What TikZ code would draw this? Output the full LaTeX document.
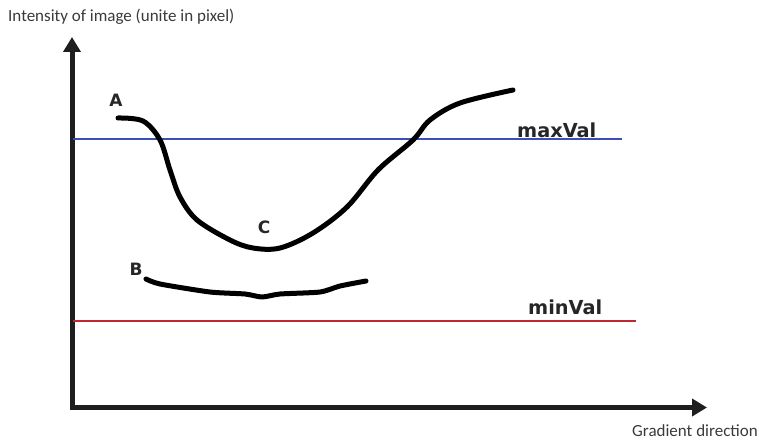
\documentclass[tikz,border=0pt]{standalone}
\usepackage{fontspec}
\setmainfont{Carlito}
\newfontfamily\lblfont{DejaVu Sans}
\usetikzlibrary{arrows.meta}
\definecolor{axisgray}{HTML}{1E1E1E}
\definecolor{txtgray}{HTML}{3A3A3A}
\definecolor{maxblue}{HTML}{3A4FB8}
\definecolor{minred}{HTML}{C0262E}
\tikzset{
  axisline/.style={line width=5pt, color=axisgray, line join=miter,
    arrows={Triangle[width=17pt,length=15pt]-Triangle[width=17pt,length=15pt]}},
  curveline/.style={line width=5pt, black, line cap=round, line join=round},
  levelline/.style={line width=1.6pt},
  axistext/.style={font=\fontsize{17}{19}\selectfont, text=txtgray, inner sep=0pt},
  lbltext/.style={font=\lblfont\bfseries\fontsize{17}{19}\selectfont, text=black!85, inner sep=0pt},
  thresh/.style={font=\lblfont\bfseries\fontsize{19.3}{21}\selectfont, text=black!85, inner sep=0pt}
}
\begin{document}
\begin{tikzpicture}[x=1pt,y=-1pt]
\useasboundingbox (0,0) rectangle (759,441);
% axes
\coordinate (ytip) at (72,37);
\coordinate (origin) at (72,407.5);
\coordinate (xtip) at (707,407.5);
\draw[axisline] (ytip) -- (origin) -- (xtip);
% threshold lines
\coordinate (maxL) at (73,139);
\coordinate (maxR) at (622,139);
\coordinate (minL) at (73,321);
\coordinate (minR) at (636,321);
\draw[levelline, maxblue] (maxL) -- (maxR);
\draw[levelline, minred] (minL) -- (minR);
% curve A
\draw[curveline] plot[smooth, tension=0.55] coordinates {
  (118,118) (143,121) (160,140) (170,170) (180,197) (197,220) (230,240)
  (253,248) (280,248) (313,233) (347,207) (378,170) (413,140) (430,120)
  (460,103) (513,90)};
% curve B
\draw[curveline] plot[smooth, tension=0.4] coordinates {
  (146,279) (160,284) (210,292) (245,294) (262,297) (280,294) (320,292)
  (340,286) (366,281)};
% labels
\node[axistext, anchor=west] (ylabel) at (8,17) {Intensity of image (unite in pixel)};
\node[axistext, anchor=east] (xlabel) at (758,431) {Gradient direction};
\node[lbltext] (A) at (116,100) {A};
\node[lbltext] (C) at (264,227) {C};
\node[lbltext] (B) at (136,269) {B};
\node[thresh, anchor=base west] (maxval) at (517,137) {maxVal};
\node[thresh, anchor=base west] (minval) at (528,314) {minVal};
\end{tikzpicture}
\end{document}
